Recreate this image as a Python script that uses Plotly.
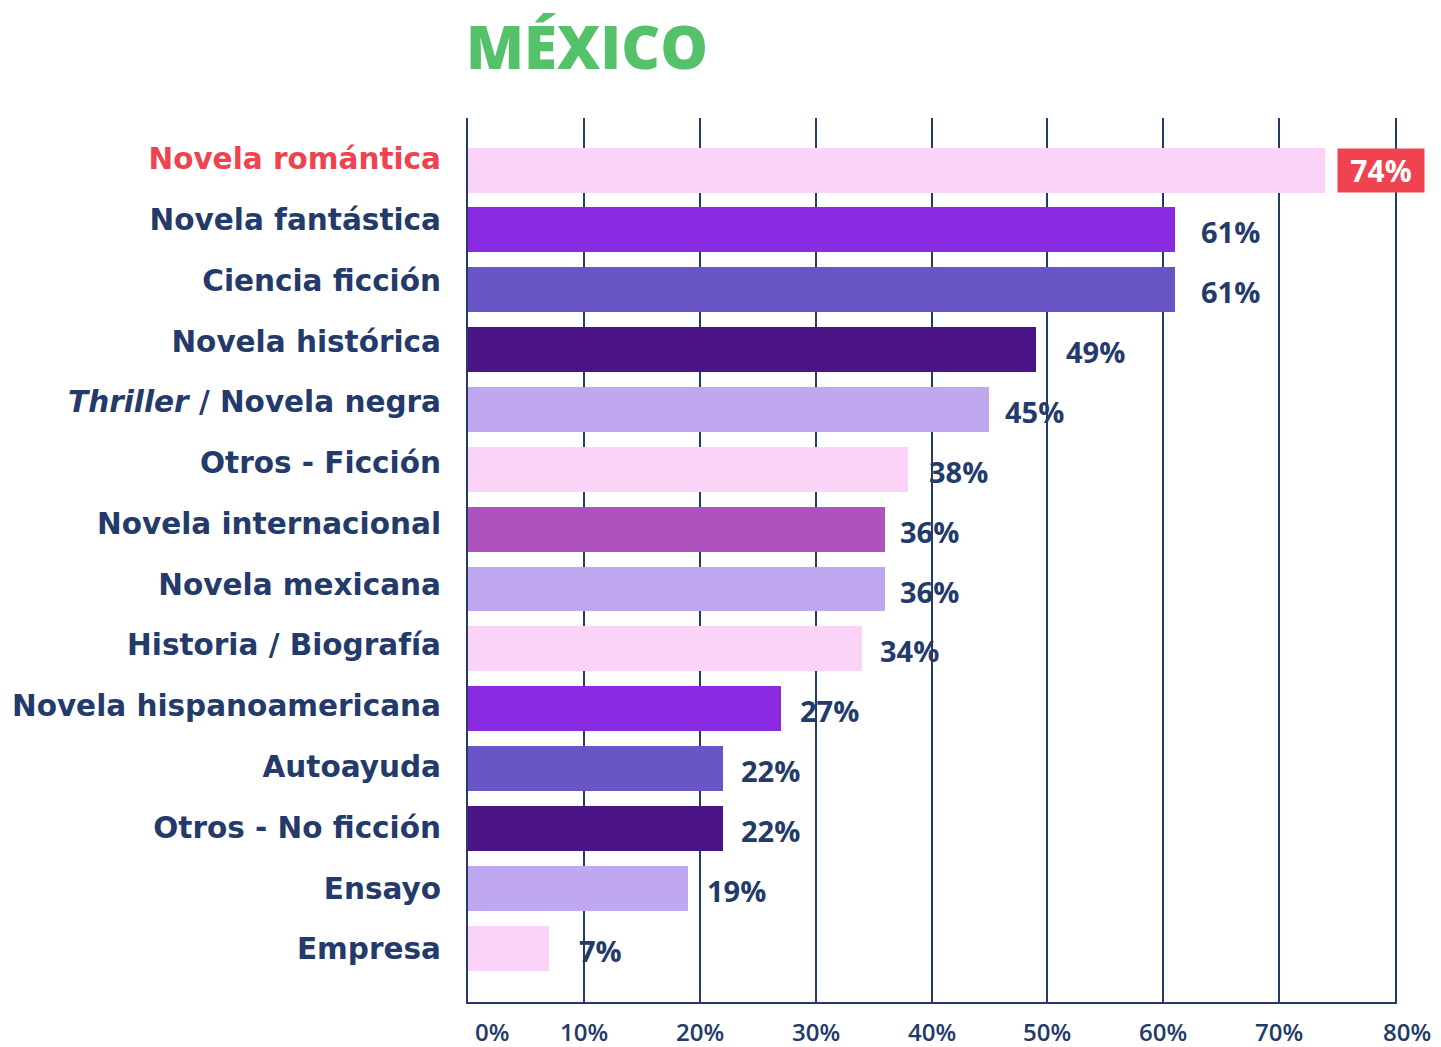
import plotly.graph_objects as go

# Reading preferences by genre, Mexico (share of readers, %)
categories = [
    "Novela romántica", "Novela fantástica", "Ciencia ficción", "Novela histórica",
    "Thriller / Novela negra", "Otros - Ficción", "Novela internacional",
    "Novela mexicana", "Historia / Biografía", "Novela hispanoamericana",
    "Autoayuda", "Otros - No ficción", "Ensayo", "Empresa",
]
values = [74, 61, 61, 49, 45, 38, 36, 36, 34, 27, 22, 22, 19, 7]
category_labels = [
    "<span style='color:#EF4350'>Novela romántica</span>", "Novela fantástica",
    "Ciencia ficción", "Novela histórica", "<i>Thriller</i> / Novela negra",
    "Otros - Ficción", "Novela internacional", "Novela mexicana",
    "Historia / Biografía", "Novela hispanoamericana", "Autoayuda",
    "Otros - No ficción", "Ensayo", "Empresa",
]
x_ticks = [0, 10, 20, 30, 40, 50, 60, 70, 80]
x_tick_labels = ["0%", "10%", "20%", "30%", "40%", "50%", "60%", "70%", "80%"]

PINK, VIOLET, SLATE, DARK, LAVENDER, ORCHID = (
    "#FBD3F6", "#8A2BE2", "#6A55C6", "#4A1486", "#C0A8F0", "#AE52BE")
bar_colors = [PINK, VIOLET, SLATE, DARK, LAVENDER, PINK, ORCHID,
              LAVENDER, PINK, VIOLET, SLATE, DARK, LAVENDER, PINK]
label_gaps = [12, 24, 24, 28, 14, 19, 13, 13, 16, 17, 16, 16, 17, 28]

NAVY = "#233A6A"
RED = "#EF4350"
GREEN = "#55C16A"
FONT = "Open Sans"
LABEL_FONT = "DejaVu Sans"

fig = go.Figure()
fig.add_trace(go.Bar(
    x=values, y=categories, orientation="h", width=0.75,
    marker=dict(color=bar_colors, line=dict(width=0)),
    hoverinfo="skip",
))
# invisible helper trace carrying the category label axis
fig.add_trace(go.Scatter(
    x=[0] * len(categories), y=list(range(len(categories))), yaxis="y2",
    mode="markers", marker=dict(opacity=0), hoverinfo="skip", showlegend=False,
))

annotations = []
for i, (cat, v) in enumerate(zip(categories, values)):
    if i == 0:
        # highlighted value in a red badge
        annotations.append(dict(
            x=v, y=cat, xref="x", yref="y", text=f"{v}%", showarrow=False,
            xanchor="left", xshift=label_gaps[i], bgcolor=RED, borderpad=6,
            width=74, height=31, align="center",
            font=dict(family=FONT, size=30, color="white", weight=700),
        ))
    else:
        annotations.append(dict(
            x=v, y=cat, xref="x", yref="y", text=f"{v}%", showarrow=False,
            xanchor="left", xshift=label_gaps[i], yshift=-2,
            font=dict(family=FONT, size=29, color=NAVY, weight=700),
        ))

for t, lab in zip(x_ticks, x_tick_labels):
    shift = 24 if t == 0 else (12 if t == 80 else 0)
    annotations.append(dict(
        x=t, y=0, xref="x", yref="paper", yanchor="middle", yshift=-29,
        xshift=shift, text=lab, showarrow=False,
        font=dict(family=FONT, size=24, color=NAVY, weight=600),
    ))

annotations.append(dict(
    x=-0.004, y=1.081, xref="paper", yref="paper", text="MÉXICO",
    showarrow=False, xanchor="left", yanchor="middle",
    font=dict(family=FONT, size=60, color=GREEN, weight=800),
))

fig.update_layout(
    width=1441, height=1047,
    margin=dict(l=468, r=46, t=118, b=45),
    paper_bgcolor="white", plot_bgcolor="white",
    showlegend=False, bargap=0,
    xaxis=dict(
        range=[0, 80], tickvals=x_ticks, showticklabels=False,
        showgrid=True, gridcolor=NAVY, gridwidth=2, zeroline=False,
        showline=True, linecolor=NAVY, linewidth=2, ticks="",
        fixedrange=True,
    ),
    yaxis=dict(
        type="category", categoryorder="array", categoryarray=categories,
        range=[13.9, -0.87], showticklabels=False, showgrid=False,
        zeroline=False, ticks="",
        # 0% and 80% rules at the plot edges, kept beneath the bars
        showline=True, mirror=True, linecolor=NAVY, linewidth=2,
        layer="below traces",
    ),
    yaxis2=dict(
        overlaying="y", side="left", range=[13.872, -0.675],
        tickvals=list(range(len(categories))), ticktext=category_labels,
        tickfont=dict(family=LABEL_FONT, size=29.5, color=NAVY, weight=700),
        ticklabelstandoff=26, showgrid=False, zeroline=False, ticks="",
        showline=False,
    ),
    annotations=annotations,
)

fig.write_html("out.html")
